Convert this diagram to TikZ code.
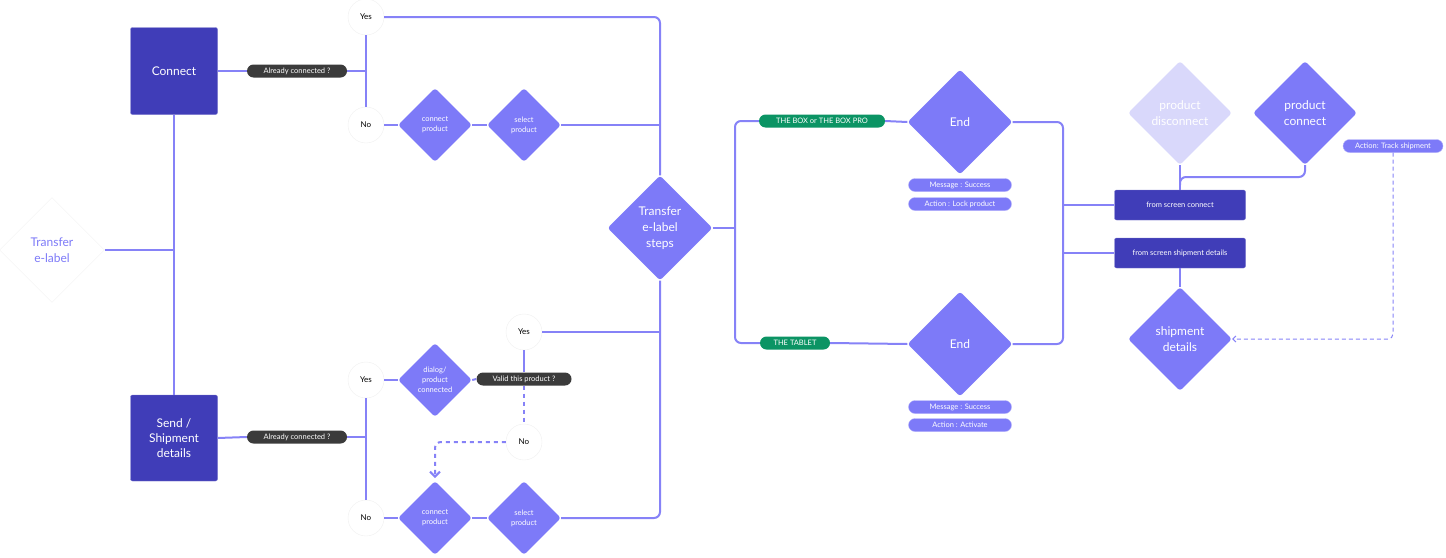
\documentclass[tikz,border=0pt]{standalone}
\usepackage{fontspec}
\setmainfont{Lato}
\usetikzlibrary{shapes.geometric,arrows.meta}
\definecolor{ln}{HTML}{8682F7}
\definecolor{dk}{HTML}{403DB8}
\definecolor{dm}{HTML}{7D7AF8}
\definecolor{gr}{HTML}{0B9464}
\definecolor{pl}{HTML}{3B3B3B}
\definecolor{fd}{HTML}{D9D8FB}
\begin{document}
\begin{tikzpicture}[x=1pt,y=-1pt,
 line/.style={draw=ln,line width=2pt,rounded corners=6pt},
 dline/.style={draw=ln,line width=2pt,dash pattern=on 4pt off 4pt,rounded corners=6pt},
 box/.style={fill=dk,draw=dk!70!white,rounded corners=2pt,text=white,align=center,font=\fontsize{12}{15}\selectfont},
 dia/.style={diamond,fill=dm,text=white,align=center,inner sep=0pt,minimum width=#1,minimum height=#1,rounded corners=3pt},
 dpill/.style={fill=pl,rounded corners=6.5pt,text=white,minimum height=13pt,inner sep=0pt,font=\fontsize{7.5}{9}\selectfont},
 gpill/.style={fill=gr,rounded corners=6.5pt,text=white,minimum height=13pt,inner sep=0pt,font=\fontsize{7.5}{9}\selectfont},
 ppill/.style={fill=dm,draw=ln!60!white,rounded corners=6.5pt,text=white,minimum height=13pt,inner sep=0pt,font=\fontsize{7.5}{9}\selectfont},
 circ/.style={circle,fill=white,draw=black!6,minimum size=36pt,inner sep=0pt,font=\fontsize{8}{10}\selectfont},
 sm/.style={font=\fontsize{7.5}{10}\selectfont},
 bg/.style={font=\fontsize{12}{16}\selectfont}]
\useasboundingbox (0,0) rectangle (1446,557);
% nodes
\node[diamond,draw=black!5,fill=white,minimum width=105pt,minimum height=105pt,inner sep=0pt,align=center,text=dm,bg] (tr) at (52,250) {Transfer\\e-label};
\node[box,minimum width=87pt,minimum height=87pt] (con) at (174,71) {Connect};
\node[box,minimum width=87pt,minimum height=86pt] (snd) at (174,438) {Send /\\Shipment\\details};
\node[dpill,minimum width=100pt] (ac1) at (297,71) {Already connected ?};
\node[dpill,minimum width=100pt] (ac2) at (297,437) {Already connected ?};
\node[circ] (y1) at (366,17) {Yes};
\node[circ] (n1) at (366,125) {No};
\node[circ] (y2) at (366,380) {Yes};
\node[circ] (n2) at (366,518) {No};
\node[dia=74pt,sm] (cp1) at (435,125) {connect\\product};
\node[dia=74pt,sm] (sp1) at (524,125) {select\\product};
\node[dia=74pt,sm] (dl) at (435,380) {dialog/\\product\\connected};
\node[dia=74pt,sm] (cp2) at (435,518) {connect\\product};
\node[dia=74pt,sm] (sp2) at (524,518) {select\\product};
\node[circ] (y3) at (524,332) {Yes};
\node[circ] (n3) at (524,442) {No};
\node[dia=105pt,bg] (st) at (660,228) {Transfer\\e-label\\steps};
\node[gpill,minimum width=126pt] (bx) at (822,121) {THE BOX or THE BOX PRO};
\node[gpill,minimum width=70pt] (tb) at (795,343) {THE TABLET};
\node[dia=105pt,bg] (e1) at (960,122) {End};
\node[dia=105pt,bg] (e2) at (960,344) {End};
\node[ppill,minimum width=103pt] (m1) at (960,185) {Message : Success};
\node[ppill,minimum width=103pt] (a1) at (960,204) {Action : Lock product};
\node[ppill,minimum width=103pt] (m2) at (960,407) {Message : Success};
\node[ppill,minimum width=103pt] (a2) at (960,425) {Action : Activate};
\node[box,minimum width=131pt,minimum height=30pt,font=\fontsize{7.5}{9}\selectfont] (fc) at (1180,205) {from screen connect};
\node[box,minimum width=131pt,minimum height=30pt,font=\fontsize{7.5}{9}\selectfont] (fs) at (1180,253) {from screen shipment details};
\node[dia=104pt,bg,fill=fd] (pd) at (1180,113) {product\\disconnect};
\node[dia=104pt,bg] (pc) at (1305,113) {product\\connect};
\node[ppill,minimum width=100pt] (ts) at (1393,146) {Action: Track shipment};
\node[dia=104pt,bg] (sd) at (1180,339) {shipment\\details};
\node[sm,dpill,minimum width=95pt] (vp) at (524,379) {Valid this product ?};
\coordinate (dh) at (435,478);
% connectors
\draw[line] (tr.east) -- (174,250);
\draw[line] (con.south) -- (snd.north);
\draw[line] (con.east) -- (ac1.west);
\draw[line] (snd.east) -- (ac2.west);
\draw[line] (ac1.east) -- (366,71);
\draw[line] (y1.south) -- (n1.north);
\draw[line] (ac2.east) -- (366,437);
\draw[line] (y2.south) -- (n2.north);
\draw[line] (n1.east) -- (cp1.west);
\draw[line] (cp1.east) -- (sp1.west);
\draw[line] (sp1.east) -- (660,125);
\draw[line] (y1.east) -- (660,17) -- (st.north);
\draw[line] (y2.east) -- (dl.west);
\draw[line] (dl.east) -- (vp.west);
\draw[line] (y3.south) -- (vp.north);
\draw[dline] (vp.south) -- (n3.north);
\draw[dline,-{Straight Barb[length=5pt,width=10pt]}] (n3.west) -- (435,442) -- (dh);
\draw[line] (n2.east) -- (cp2.west);
\draw[line] (cp2.east) -- (sp2.west);
\draw[line] (sp2.east) -- (660,518) -- (st.south);
\draw[line] (y3.east) -- (660,332);
\draw[line] (st.east) -- (735,228);
\draw[line] (bx.west) -- (735,121) -- (735,343) -- (tb.west);
\draw[line] (bx.east) -- (e1.west);
\draw[line] (tb.east) -- (e2.west);
\draw[line] (e1.east) -- (1063,122) -- (1063,344) -- (e2.east);
\draw[line] (1063,205) -- (fc.west);
\draw[line] (1063,253) -- (fs.west);
\draw[line] (pd.south) -- (fc.north);
\draw[line] (pc.south) -- (1305,177) -- (1180,177) -- (1180,185);
\draw[line] (fs.south) -- (sd.north);
\draw[ln,line width=1pt,dash pattern=on 4pt off 3pt,rounded corners=5pt,-{Straight Barb[length=3pt,width=6pt]}] (ts.south) -- (1393,339) -- (sd.east);
\end{tikzpicture}
\end{document}
